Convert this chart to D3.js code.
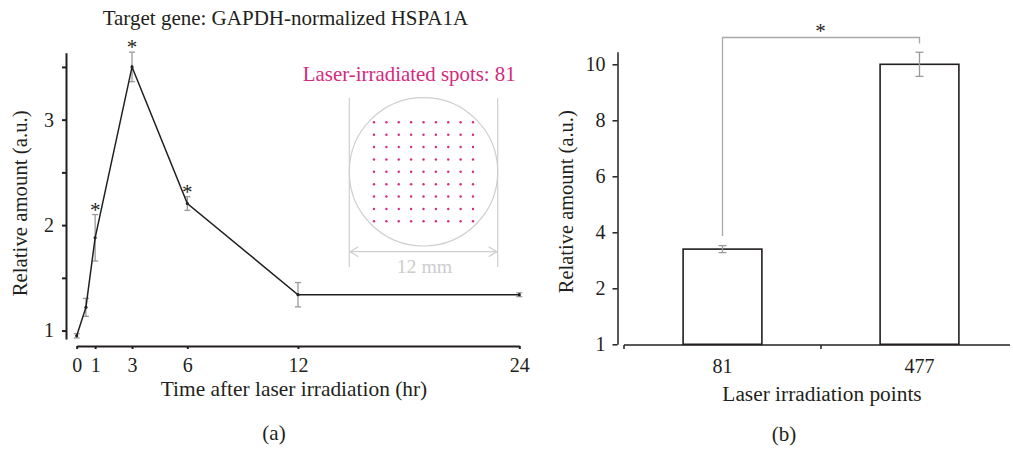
<!DOCTYPE html>
<html><head><meta charset="utf-8">
<script src="https://cdn.jsdelivr.net/npm/d3@7"></script>
<style>
body{margin:0;background:#fff;}
svg{display:block;}
text{font-family:"Liberation Serif","Times New Roman",serif;fill:#231f20;}
</style></head>
<body>
<svg id="c" width="1013" height="450"></svg>
<script>
// ---------- data ----------
const timeHours = [0, 0.5, 1, 3, 6, 12, 24];
const relAmountA = [0.95, 1.22, 1.88, 3.50, 2.205, 1.34, 1.34];
const errA = [0.02, 0.085, 0.22, 0.14, 0.065, 0.115, 0.018];
const sigTimes = [1, 3, 6];
const xTicksA = [0, 1, 3, 6, 12, 24];
const yTicksA = [1, 1.5, 2, 2.5, 3, 3.5];
const yLabelsA = {1: "1", 2: "2", 3: "3"};

const categoriesB = ["81", "477"];
const relAmountB = [3.4, 10.0];
const errB = [0.125, 0.43];
const yTicksB = [1, 2, 4, 6, 8, 10];

const spotsCount = 81;
const spotsPerSide = 9;
const dishLabel = "12 mm";

const svg = d3.select("#c");
const ink = "#231f20";
const grey = "#9a9a9a";
const magenta = "#d42a7d";
const tickFont = "20px";

// fit a text element to a target width by adjusting its font size
function fit(sel, target) {
  const n = sel.node();
  const fs = parseFloat(sel.style("font-size"));
  const w = n.getComputedTextLength();
  if (w > 0) sel.style("font-size", (fs * target / w).toFixed(2) + "px");
  return sel;
}

// ---------- panel (a) ----------
const xA = d3.scaleLinear().domain([0, 24]).range([76.7, 519.3]);
const yA = d3.scaleLinear().domain([0.92, 3.635]).range([339, 52.7]);

svg.append("text").attr("x", 102.7).attr("y", 25).attr("text-anchor", "start")
  .style("font-size", "21px").text("Target gene: GAPDH-normalized HSPA1A");

const gxA = svg.append("g").attr("transform", "translate(0,346)")
  .call(d3.axisBottom(xA).tickValues(xTicksA).tickSizeInner(3).tickSizeOuter(0).tickPadding(9).tickFormat(d3.format("d")));
const gyA = svg.append("g").attr("transform", "translate(66,0)")
  .call(d3.axisLeft(yA).tickValues(yTicksA).tickSizeInner(4).tickSizeOuter(0).tickPadding(8).tickFormat(d => yLabelsA[d] || ""));
[gxA, gyA].forEach(g => {
  g.select(".domain").attr("stroke", ink).attr("stroke-width", 2);
  g.selectAll(".tick line").attr("stroke", ink).attr("stroke-width", 2);
  g.selectAll("text").style("font-family", '"Liberation Serif",serif').style("font-size", tickFont).attr("fill", ink);
});

fit(svg.append("text").attr("transform", "translate(27,203.3) rotate(-90)").attr("text-anchor", "middle")
  .style("font-size", "21px").text("Relative amount (a.u.)"), 186);
fit(svg.append("text").attr("x", 294).attr("y", 396).attr("text-anchor", "middle")
  .style("font-size", "21px").text("Time after laser irradiation (hr)"), 266.6);
svg.append("text").attr("x", 274).attr("y", 439.5).attr("text-anchor", "middle")
  .style("font-size", "21px").text("(a)");

// error bars
const ptsA = timeHours.map((t, i) => ({t, v: relAmountA[i], e: errA[i]}));
const eb = svg.append("g").attr("stroke", grey).attr("stroke-width", 1.3).attr("fill", "none");
ptsA.forEach(p => {
  const x = xA(p.t), y1 = yA(p.v + p.e), y2 = yA(p.v - p.e);
  eb.append("line").attr("x1", x).attr("x2", x).attr("y1", y1).attr("y2", y2);
  eb.append("line").attr("x1", x - 3).attr("x2", x + 3).attr("y1", y1).attr("y2", y1);
  eb.append("line").attr("x1", x - 3).attr("x2", x + 3).attr("y1", y2).attr("y2", y2);
});
// line
svg.append("path").datum(ptsA)
  .attr("d", d3.line().x(d => xA(d.t)).y(d => yA(d.v)))
  .attr("fill", "none").attr("stroke", ink).attr("stroke-width", 1.5);
svg.append("g").selectAll("circle").data(ptsA).join("circle")
  .attr("cx", d => xA(d.t)).attr("cy", d => yA(d.v)).attr("r", 1.6).attr("fill", ink);
// significance
svg.append("g").selectAll("text").data(ptsA.filter(p => sigTimes.includes(p.t))).join("text")
  .attr("x", d => xA(d.t)).attr("y", d => yA(d.v + d.e) + 2).attr("text-anchor", "middle")
  .style("font-size", "21px").text("*");

// inset
const inset = svg.append("g");
fit(inset.append("text").attr("x", 409.3).attr("y", 80.5).attr("text-anchor", "middle")
  .style("font-size", "21px").style("fill", magenta)
  .text("Laser-irradiated spots: " + spotsCount), 213);
const cx = 423.5, cy = 171.8, r = 74.2;
const lightGrey = "#cfcfcf";
inset.append("circle").attr("cx", cx).attr("cy", cy).attr("r", r)
  .attr("fill", "none").attr("stroke", lightGrey).attr("stroke-width", 1.2);
[cx - r, cx + r].forEach(x => inset.append("line").attr("x1", x).attr("x2", x)
  .attr("y1", 98).attr("y2", 267).attr("stroke", lightGrey).attr("stroke-width", 1.2));
inset.append("line").attr("x1", cx - r).attr("x2", cx + r).attr("y1", 251.7).attr("y2", 251.7)
  .attr("stroke", lightGrey).attr("stroke-width", 1.3);
inset.append("path").attr("d", `M${cx - r + 9},246.7 L${cx - r + 1},251.7 L${cx - r + 9},256.7 M${cx + r - 9},246.7 L${cx + r - 1},251.7 L${cx + r - 9},256.7`)
  .attr("fill", "none").attr("stroke", lightGrey).attr("stroke-width", 1.3);
fit(inset.append("text").attr("x", 424.5).attr("y", 272.7).attr("text-anchor", "middle")
  .style("font-size", "20px").style("fill", "#cdcdcd").text(dishLabel), 55.6);
const gridScale = d3.scalePoint().domain(d3.range(spotsPerSide)).range([-49.5, 49.5]);
const spots = d3.range(spotsCount).map(i => ({c: i % spotsPerSide, r: Math.floor(i / spotsPerSide)}));
inset.append("g").selectAll("circle").data(spots).join("circle")
  .attr("cx", d => cx + gridScale(d.c)).attr("cy", d => cy + gridScale(d.r)).attr("r", 1.2)
  .attr("fill", magenta);

// ---------- panel (b) ----------
const xB = d3.scaleBand().domain(categoriesB).range([624, 1018]);
const yB = d3.scaleLinear().domain([1, 2, 10.45]).range([344.3, 288.3, 51.7]);

const gyB = svg.append("g").attr("transform", "translate(617.5,0)")
  .call(d3.axisLeft(yB).tickValues(yTicksB).tickSizeInner(5).tickSizeOuter(0).tickPadding(7).tickFormat(d3.format("d")));
gyB.select(".domain").attr("stroke", ink).attr("stroke-width", 1.5);
gyB.selectAll(".tick line").attr("stroke", ink).attr("stroke-width", 1.5);
gyB.selectAll("text").style("font-family", '"Liberation Serif",serif').style("font-size", tickFont).attr("fill", ink);

const gxB = svg.append("g").attr("transform", "translate(0,345)");
gxB.append("line").attr("x1", 624).attr("x2", 1010).attr("y1", 0).attr("y2", 0).attr("stroke", ink).attr("stroke-width", 1.5);
gxB.selectAll(".bt").data(categoriesB).join("line").attr("class", "bt")
  .attr("x1", d => xB(d)).attr("x2", d => xB(d)).attr("y1", 0).attr("y2", 4).attr("stroke", ink).attr("stroke-width", 1.5);
gxB.selectAll(".bl").data(categoriesB).join("text").attr("class", "bl")
  .attr("x", d => xB(d) + xB.bandwidth() / 2).attr("y", 28.3).attr("text-anchor", "middle")
  .style("font-size", tickFont).text(d => d);

const barW = xB.bandwidth() * 0.4;
const ptsB = categoriesB.map((c, i) => ({c, v: relAmountB[i], e: errB[i]}));
svg.append("g").selectAll("rect").data(ptsB).join("rect")
  .attr("x", d => xB(d.c) + (xB.bandwidth() - barW) / 2).attr("width", barW)
  .attr("y", d => yB(d.v)).attr("height", d => yB(1) - yB(d.v))
  .attr("fill", "#fff").attr("stroke", ink).attr("stroke-width", 1.6);
const ebB = svg.append("g").attr("stroke", grey).attr("stroke-width", 1.3);
ptsB.forEach(p => {
  const x = xB(p.c) + xB.bandwidth() / 2, y1 = yB(p.v + p.e), y2 = yB(p.v - p.e);
  ebB.append("line").attr("x1", x).attr("x2", x).attr("y1", y1).attr("y2", y2);
  ebB.append("line").attr("x1", x - 4).attr("x2", x + 4).attr("y1", y1).attr("y2", y1);
  ebB.append("line").attr("x1", x - 4).attr("x2", x + 4).attr("y1", y2).attr("y2", y2);
});
// significance bracket
const bx1 = xB(categoriesB[0]) + xB.bandwidth() / 2, bx2 = xB(categoriesB[1]) + xB.bandwidth() / 2;
const bTop = 37.5;
svg.append("path").attr("d", `M${bx1},${yB(relAmountB[0] + errB[0]) - 9.5} L${bx1},${bTop} L${bx2},${bTop} L${bx2},${bTop + 6}`)
  .attr("fill", "none").attr("stroke", "#a8a8a8").attr("stroke-width", 1.3);
svg.append("text").attr("x", (bx1 + bx2) / 2 - 0.5).attr("y", 38).attr("text-anchor", "middle")
  .style("font-size", "21px").text("*");

fit(svg.append("text").attr("transform", "translate(573,201.7) rotate(-90)").attr("text-anchor", "middle")
  .style("font-size", "21px").text("Relative amount (a.u.)"), 183);
fit(svg.append("text").attr("x", 822).attr("y", 401).attr("text-anchor", "middle")
  .style("font-size", "21px").text("Laser irradiation points"), 199.4);
svg.append("text").attr("x", 784).attr("y", 441).attr("text-anchor", "middle")
  .style("font-size", "21px").text("(b)");
</script>
</body></html>
